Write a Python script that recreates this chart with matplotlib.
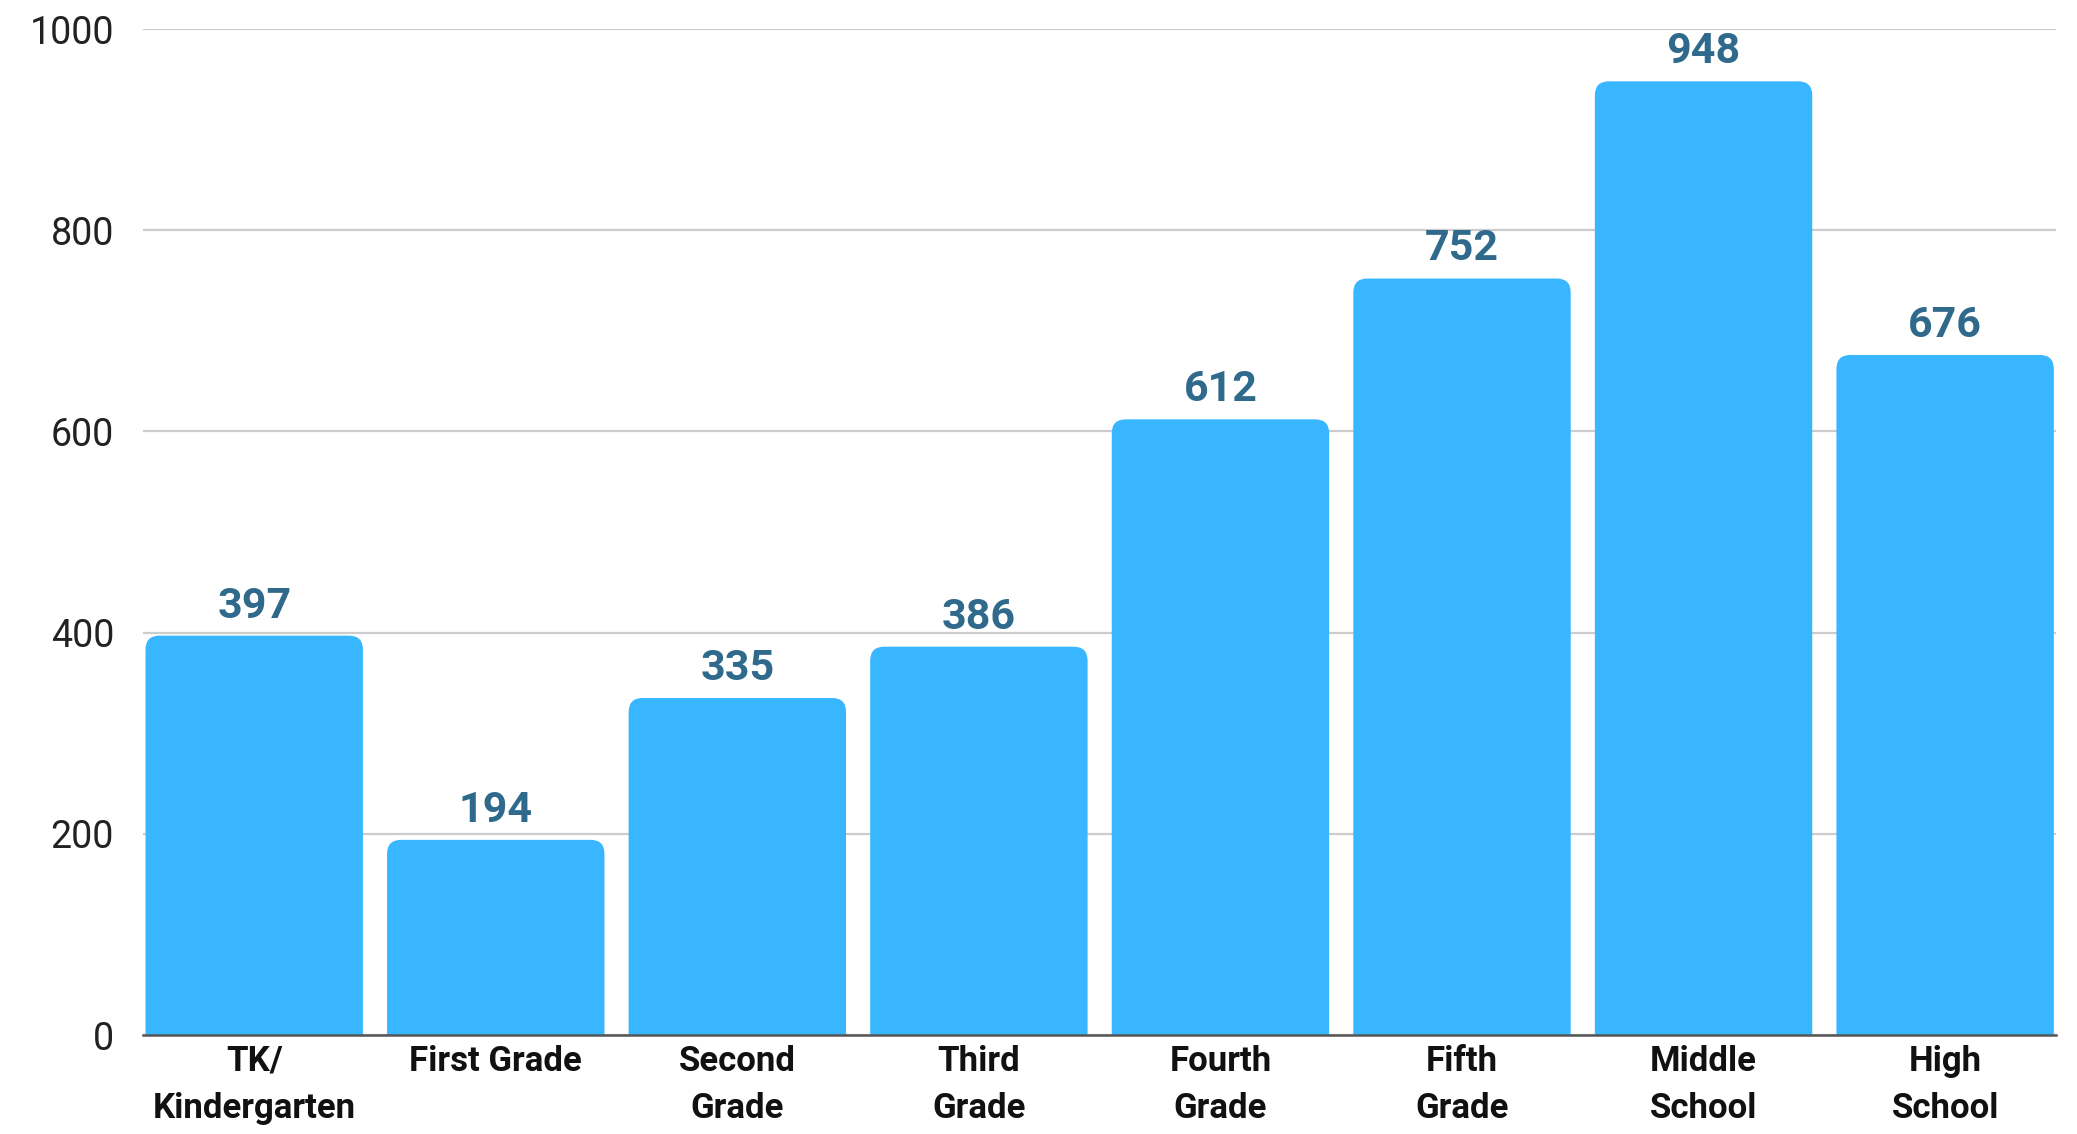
import numpy as np
import matplotlib.pyplot as plt
from matplotlib.patches import FancyBboxPatch

plt.rcParams['font.family'] = ['Roboto', 'DejaVu Sans']

# data
categories = ['TK/\nKindergarten', 'First Grade', 'Second\nGrade', 'Third\nGrade',
              'Fourth\nGrade', 'Fifth\nGrade', 'Middle\nSchool', 'High\nSchool']
values = [397, 194, 335, 386, 612, 752, 948, 676]
y_ticks = [0, 200, 400, 600, 800, 1000]

bar_color = '#38B6FF'
label_color = '#2F6A8C'

fig = plt.figure(figsize=(20.77, 11.34), dpi=100)
ax = fig.add_axes([0.0689, 0.0873, 0.9211, 0.8871])

x = np.arange(len(values))
width = 0.9
ax.set_xlim(-0.46, len(values) - 0.54)
ax.set_ylim(0, 1000)

# gridlines
ax.set_yticks(y_ticks)
ax.yaxis.grid(True, color='#cccccc', linewidth=1.6)
ax.set_axisbelow(True)

bars = ax.bar(x, values, width=width, color=bar_color, zorder=2)

# rounded top corners, bottom corners pushed below 0 so the axes clip them
fig.canvas.draw()
bb = ax.get_window_extent()
xu = (ax.get_xlim()[1] - ax.get_xlim()[0]) / bb.width
yu = (ax.get_ylim()[1] - ax.get_ylim()[0]) / bb.height
r_px = 14
for b in bars:
    b.set_visible(False)
    x0, w, h = b.get_x(), b.get_width(), b.get_height()
    ax.add_patch(FancyBboxPatch((x0, -100), w, h + 100,
                                boxstyle='round,pad=0,rounding_size=%f' % (r_px * xu),
                                mutation_aspect=yu / xu, facecolor=bar_color,
                                edgecolor='none', zorder=2))

# value labels
for xi, v in zip(x, values):
    ax.annotate(str(v), (xi, v), xytext=(0, 13), textcoords='offset points',
                ha='center', va='baseline', fontsize=31, fontweight='bold',
                color=label_color)

ax.set_xticks(x)
ax.set_xticklabels(categories, fontsize=25, fontweight='bold', color='#111111',
                   linespacing=1.55)
ax.tick_params(axis='x', length=0, pad=7)
ax.tick_params(axis='y', length=0, pad=21, labelsize=27, labelcolor='#222222')

for s in ['top', 'right', 'left']:
    ax.spines[s].set_visible(False)
ax.spines['bottom'].set_color('#555555')
ax.spines['bottom'].set_linewidth(1.8)
ax.spines['bottom'].set_zorder(3)

fig.savefig('out.png', dpi=100, facecolor='white')
